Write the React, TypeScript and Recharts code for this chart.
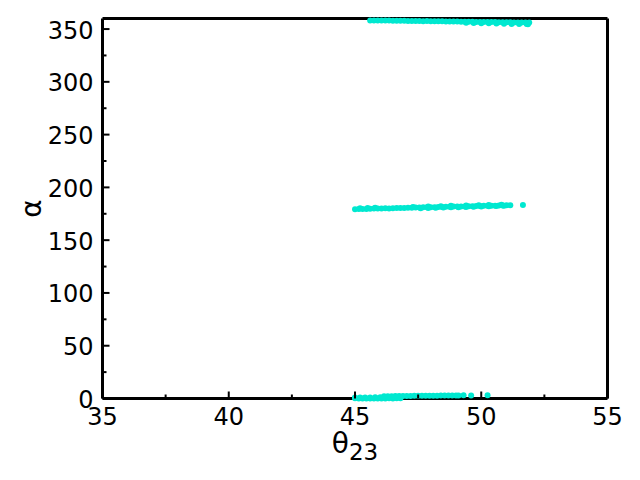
import React from "react";
import { ScatterChart, Scatter, XAxis, YAxis } from "recharts";

const CYAN = "#00e8d0";
const FONT = "DejaVu Sans, sans-serif";

const xTicks = [35, 37.5, 40, 42.5, 45, 47.5, 50, 52.5, 55];
const yTicks = [0, 25, 50, 75, 100, 125, 150, 175, 200, 225, 250, 275, 300, 325, 350];

// upper band (near 360)
const topX = [45.6, 45.75, 45.9, 46.05, 46.2, 46.35, 46.5, 46.65, 46.8, 46.95, 47.1, 47.25, 47.4, 47.55, 47.7, 47.85,
  48.0, 48.15, 48.3, 48.45, 48.6, 48.75, 48.9, 49.05, 49.2, 49.35, 49.5, 49.65, 49.8, 49.95, 50.1, 50.25, 50.4, 50.55, 50.7, 50.85,
  51.0, 51.15, 51.3, 51.45, 51.6, 51.75, 51.9,
  49.4, 49.7, 50.0, 50.3, 50.6, 50.9, 51.2, 51.5, 51.8, 51.85];
const topY = [358.2, 358.2, 358.1, 358.1, 358.0, 358.0, 357.9, 357.9, 357.8, 357.9, 357.7, 357.7, 357.6, 357.6, 357.5, 357.6,
  357.4, 357.4, 357.3, 357.3, 357.2, 357.2, 357.1, 357.1, 357.0, 357.0, 356.9, 356.9, 356.8, 356.8, 356.7, 356.7, 356.6, 356.6, 356.5, 356.5,
  356.4, 356.4, 356.3, 356.3, 356.2, 356.2, 356.1,
  356.0, 355.8, 355.6, 355.4, 355.2, 355.0, 354.9, 354.8, 354.7, 354.6];

// middle band (near 180)
const midX = [45.0, 45.15, 45.3, 45.45, 45.6, 45.75, 45.9, 46.05, 46.2, 46.35, 46.5, 46.65, 46.8, 46.95, 47.1, 47.25, 47.4, 47.55, 47.7, 47.85,
  48.0, 48.15, 48.3, 48.45, 48.6, 48.75, 48.9, 49.05, 49.2, 49.35, 49.5, 49.65, 49.8, 49.95, 50.1, 50.25, 50.4, 50.55, 50.7, 50.85,
  51.0, 51.15, 45.2, 45.5, 45.8, 47.3, 47.9, 48.4, 48.8, 49.4, 49.9, 50.3, 50.8, 51.65,
  47.6, 47.9, 48.2, 48.5, 48.8, 49.1, 49.4, 49.7, 50.0, 50.3, 50.6, 50.9];
const midY = [179.4, 179.5, 179.6, 179.5, 179.8, 179.9, 180.0, 180.0, 180.2, 180.1, 180.3, 180.4, 180.5, 180.5, 180.7, 180.7, 180.9, 181.0, 181.1, 181.1,
  181.3, 181.3, 181.5, 181.5, 181.6, 181.7, 181.8, 181.8, 182.0, 182.0, 182.1, 182.2, 182.3, 182.3, 182.5, 182.5, 182.7, 182.7, 182.8, 182.9,
  183.0, 183.1, 180.2, 180.4, 180.6, 181.5, 181.9, 182.2, 182.5, 182.8, 183.0, 183.4, 183.6, 183.3,
  180.3, 180.5, 180.7, 180.9, 181.1, 181.3, 181.5, 181.7, 181.9, 182.1, 182.3, 182.5];

// lower band (near 0)
const lowX = [45.0, 45.15, 45.3, 45.45, 45.6, 45.75, 45.9, 46.05, 46.2, 46.35, 46.5, 46.65, 46.8,
  45.0, 45.2, 45.4, 45.6, 45.8, 46.0,
  46.15, 46.3, 46.45, 46.6, 46.75, 46.9, 47.05, 47.2, 47.35, 47.5, 47.65, 47.8, 47.95, 48.1, 48.25, 48.4, 48.55, 48.7, 48.85, 49.0, 49.1,
  49.3, 49.6, 50.25];
const lowY = [0.2, 0.1, 0.1, 0.0, 0.0, 0.1, 0.0, 0.1, 0.0, 0.2, 0.1, 0.2, 0.3,
  0.9, 0.9, 1.0, 1.0, 1.1, 1.2,
  2.1, 2.2, 2.2, 2.3, 2.3, 2.4, 2.4, 2.4, 2.5, 2.5, 2.6, 2.6, 2.6, 2.7, 2.7, 2.8, 2.8, 2.8, 2.9, 2.9, 2.8,
  3.0, 2.8, 3.0];

const toPoints = (xs: number[], ys: number[]) => xs.map((x, i) => ({ x, y: ys[i] }));
const topData = toPoints(topX, topY);
const midData = toPoints(midX, midY);
const lowData = toPoints(lowX, lowY);

const Dot = (p: any) => <circle cx={p.cx} cy={p.cy} r={3} fill={CYAN} />;

const isMajor = (v: number, step: number) => Math.abs(v % step) < 1e-6;

function BottomTick({ x, y, payload }: any) {
  const major = isMajor(payload.value, 5);
  return (
    <g>
      <line x1={x} x2={x} y1={y} y2={y - (major ? 7 : 4)} stroke="#000" strokeWidth={2} />
      {major && (
        <text x={x} y={y + 26} textAnchor="middle" fontSize={24} fontFamily={FONT} fill="#000">
          {payload.value}
        </text>
      )}
    </g>
  );
}

function TopTick({ x, y, payload }: any) {
  const major = isMajor(payload.value, 5);
  return <line x1={x} x2={x} y1={y} y2={y + (major ? 7 : 4)} stroke="#000" strokeWidth={2} />;
}

function LeftTick({ x, y, payload }: any) {
  const major = isMajor(payload.value, 50);
  return (
    <g>
      <line x1={x} x2={x + (major ? 7 : 4)} y1={y} y2={y} stroke="#000" strokeWidth={2} />
      {major && (
        <text x={x - 9} y={y + 9.5} textAnchor="end" fontSize={24} fontFamily={FONT} fill="#000">
          {payload.value}
        </text>
      )}
    </g>
  );
}

function RightTick({ x, y, payload }: any) {
  const major = isMajor(payload.value, 50);
  return <line x1={x} x2={x - (major ? 7 : 4)} y1={y} y2={y} stroke="#000" strokeWidth={2} />;
}

const XTitle = ({ viewBox }: any) => {
  const cx = viewBox.x + viewBox.width / 2;
  return (
    <text x={cx} y={viewBox.y + 54} textAnchor="middle" fontFamily={FONT} fill="#000" fontSize={28}>
      θ
      <tspan fontSize={23} dy={7}>23</tspan>
    </text>
  );
};

const YTitle = ({ viewBox }: any) => {
  const cy = viewBox.y + viewBox.height / 2;
  const cx = 41;
  return (
    <text x={cx} y={cy} textAnchor="middle" fontFamily={FONT} fill="#000" fontSize={28} transform={`rotate(-90, ${cx}, ${cy})`}>
      α
    </text>
  );
};

export default function App() {
  const axisLine = { stroke: "#000", strokeWidth: 3 };
  return (
    <div style={{ position: "absolute", left: 0, top: 0, background: "#fff" }}>
      <ScatterChart width={640} height={480} margin={{ top: 17.5, right: 31.5, bottom: 31.5, left: 42.5 }}>
        <XAxis
          type="number"
          dataKey="x"
          domain={[35, 55]}
          ticks={xTicks}
          interval={0}
          height={50}
          tickSize={0}
          tickMargin={0}
          tickLine={false}
          axisLine={axisLine}
          tick={BottomTick}
          label={{ content: XTitle }}
        />
        <XAxis
          xAxisId="top"
          orientation="top"
          type="number"
          domain={[35, 55]}
          ticks={xTicks}
          interval={0}
          height={1}
          tickSize={0}
          tickMargin={0}
          tickLine={false}
          axisLine={axisLine}
          tick={TopTick}
        />
        <YAxis
          type="number"
          dataKey="y"
          domain={[0, 360]}
          ticks={yTicks}
          interval={0}
          width={60}
          tickSize={0}
          tickMargin={0}
          tickLine={false}
          axisLine={axisLine}
          tick={LeftTick}
          label={{ content: YTitle }}
        />
        <YAxis
          yAxisId="right"
          orientation="right"
          type="number"
          domain={[0, 360]}
          ticks={yTicks}
          interval={0}
          width={1}
          tickSize={0}
          tickMargin={0}
          tickLine={false}
          axisLine={axisLine}
          tick={RightTick}
        />
        <Scatter data={topData} fill={CYAN} shape={Dot} isAnimationActive={false} />
        <Scatter data={midData} fill={CYAN} shape={Dot} isAnimationActive={false} />
        <Scatter data={lowData} fill={CYAN} shape={Dot} isAnimationActive={false} />
      </ScatterChart>
    </div>
  );
}
